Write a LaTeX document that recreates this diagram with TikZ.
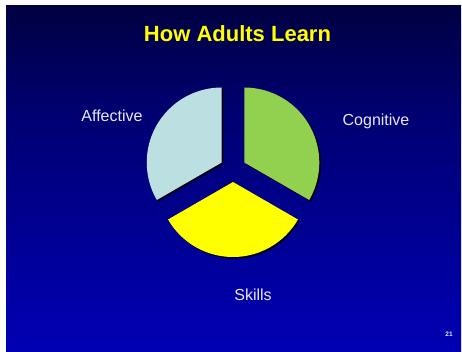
\documentclass[tikz,border=0pt]{standalone}
\usepackage{fontspec}
\setmainfont{Liberation Sans}
\usetikzlibrary{positioning}
\usepackage{xcolor}
\definecolor{fondotop}{HTML}{00000E}
\definecolor{fondoalto}{HTML}{00002C}
\definecolor{fondomed}{HTML}{000070}
\definecolor{fondobajo}{HTML}{0000B4}
\definecolor{fondobot}{HTML}{0000CC}
\definecolor{afect}{HTML}{BCE0E2}
\definecolor{cogn}{HTML}{92D050}
\definecolor{habil}{HTML}{FFFF00}
\definecolor{etiq}{HTML}{E8E8FA}
\pgfdeclareverticalshading{fondo}{100bp}{color(0bp)=(fondobot); color(25bp)=(fondobajo);
  color(60bp)=(fondomed); color(82bp)=(fondoalto); color(100bp)=(fondotop)}

\begin{document}
\begin{tikzpicture}[
    x=1pt,y=1pt,
    titulo/.style={habil,font=\fontsize{22}{26}\selectfont\bfseries,anchor=base},
    etiqueta/.style={etiq,font=\fontsize{16}{19}\selectfont,anchor=base},
    sombra/.style={black,opacity=0.85}]
  \useasboundingbox (0,0) rectangle (462,351);
  % --- lámina con degradado
  \fill[white] (0,0) rectangle (462,351);
  \shade[shading=fondo] (6,0) rectangle (461,345);
  \node[titulo] (titulo) at (237.5,309) {How Adults Learn};
  % --- pastel con tres sectores separados
  \coordinate (ctr) at (233,182);
  \foreach \ini/\fin/\dir/\col in {90/210/150/afect,-30/90/30/cogn,210/330/270/habil}{
    \begin{scope}[shift={(ctr)},shift={(\dir:13pt)}]
      \fill[sombra] (1.6,-1.6) -- ++(\ini:75pt) arc[start angle=\ini,end angle=\fin,radius=75pt] -- cycle;
      \fill[\col] (0,0) -- (\ini:75pt) arc[start angle=\ini,end angle=\fin,radius=75pt] -- cycle;
    \end{scope}
  }
  % etiquetas
  \node[etiqueta] (afectivo) at (112,229) {Affective};
  \node[etiqueta] (cognitivo) at (376,225) {Cognitive};
  \node[etiqueta] (habilidad) at (253,51) {Skills};
  \node[etiq,font=\fontsize{6.5}{8}\selectfont\bfseries,anchor=base] (pagina) at (449,15) {21};
\end{tikzpicture}
\end{document}
